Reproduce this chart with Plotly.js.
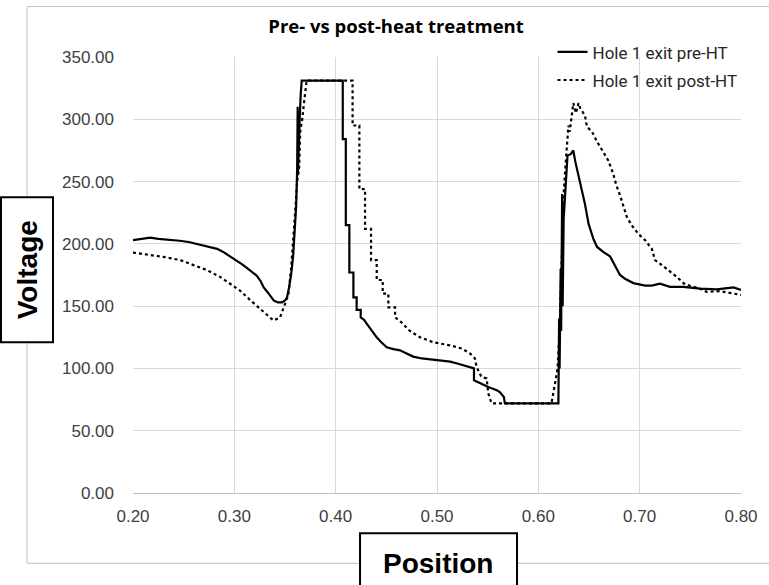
<!DOCTYPE html>
<html>
<head>
<meta charset="utf-8">
<script src="https://cdn.plot.ly/plotly-3.0.1.min.js"></script>
<style>html,body{margin:0;padding:0;background:#fff;}#chart{width:769px;height:585px;}</style>
</head>
<body>
<div id="chart"></div>
<script>
const chartTitle = "Pre- vs post-heat treatment";
const seriesNames = ["Hole 1 exit pre-HT", "Hole 1 exit post-HT"];
const xTitle = "Position";
const yTitle = "Voltage";

const preX = [0.200,0.210,0.217,0.225,0.235,0.246,0.255,0.263,0.270,0.276,0.283,0.289,0.295,0.301,0.307,0.312,0.317,0.322,0.326,0.329,0.333,0.336,0.339,0.343,0.347,0.350,0.352,0.354,0.356,0.358,0.360,0.361,0.362,0.3625,0.3628,0.3635,0.3645,0.3655,0.3665,0.370,0.385,0.400,0.407,0.407,0.410,0.410,0.4135,0.4135,0.4175,0.4175,0.4207,0.4207,0.4247,0.4247,0.428,0.4306,0.435,0.4405,0.445,0.4504,0.457,0.4635,0.470,0.4766,0.485,0.4964,0.505,0.513,0.520,0.526,0.534,0.5365,0.5365,0.5424,0.5506,0.559,0.562,0.566,0.567,0.580,0.600,0.6198,0.6205,0.621,0.622,0.6225,0.6235,0.624,0.625,0.627,0.6288,0.632,0.6345,0.6365,0.6397,0.643,0.646,0.6496,0.6543,0.658,0.664,0.6707,0.6757,0.6806,0.6855,0.6938,0.7053,0.712,0.720,0.730,0.743,0.7596,0.776,0.7927,0.800];
const preY = [203,204,205,204,203.5,202.5,201.5,200,199,197.5,196,193.5,190.5,187,184,181,178,174.5,170,165,161,157.5,154.5,153,153,154.5,157,165,175,190,212,230,260,310,255,280,300,320,331,331,331,331,331,284,284,215,215,177,177,157,157,147,147,141,139,136,131,125,121,117,115.5,114.5,112,109.5,108,107,106.5,105.5,104,102.5,100,100,90.5,88,85,82.5,81,77,72,72,72,72,140,100,180,130,240,150,220,250,271,272,275,266,255,243,232,216,204,197.5,193.5,190,183,175,172,168.5,166.5,166.5,168,165.5,165.5,164,163.5,165,163];

const postX = [0.200,0.2135,0.230,0.2466,0.2595,0.2727,0.2859,0.2957,0.3056,0.3155,0.3253,0.332,0.3386,0.3451,0.3483,0.3533,0.356,0.358,0.360,0.362,0.364,0.365,0.367,0.369,0.3714,0.390,0.4115,0.4167,0.4167,0.4234,0.4234,0.429,0.429,0.4349,0.4349,0.4405,0.4405,0.4464,0.4464,0.452,0.452,0.4586,0.4586,0.4635,0.4734,0.4832,0.4964,0.513,0.5244,0.5326,0.5375,0.5391,0.544,0.549,0.5506,0.5538,0.570,0.590,0.613,0.6165,0.619,0.621,0.623,0.625,0.627,0.6297,0.631,0.633,0.6345,0.637,0.6397,0.6413,0.646,0.648,0.653,0.658,0.664,0.669,0.674,0.677,0.6806,0.6872,0.692,0.6987,0.7053,0.712,0.7151,0.7235,0.7365,0.7447,0.7596,0.7662,0.7793,0.7892,0.800];
const postY = [193,191.5,189.5,187,183,179,173.5,168,162.5,155,148,144,138.5,141,148,159,180,200,225,250,262,290,300,315,331,331,331,331,295,295,244,244,212,212,187,187,171,171,160,160,149,149,141,138,130,125,121,118.5,116,112,108,101,93,92,80,72,72,72,72,88,100,130,180,240,265,295,290,305,313,305,313,309,303,294,290,282,274,267,256,247,239,222,215,208,203,196,187,182,173.5,167.5,164,161.5,162,160.5,159];

const xTicks = [0.2,0.3,0.4,0.5,0.6,0.7,0.8];
const yTicks = [0,50,100,150,200,250,300,350];

const traces = [
  {x: preX, y: preY, name: seriesNames[0], type: 'scatter', mode: 'lines', legendgroup: 'pre',
   line: {color: '#000000', width: 2.2, dash: 'solid'}},
  {x: postX, y: postY, name: seriesNames[1], type: 'scatter', mode: 'lines', legendgroup: 'post',
   line: {color: '#000000', width: 2.2, dash: 'dot'}}
];

const tickFont = {family: 'Liberation Sans, Arial, sans-serif', size: 17, color: '#404040'};

const layout = {
  width: 769, height: 585, autosize: false,
  paper_bgcolor: '#ffffff', plot_bgcolor: '#ffffff',
  margin: {l: 133, r: 28, t: 57, b: 92, pad: 0},
  showlegend: true,
  title: {text: '<b>' + chartTitle + '</b>', x: 0.515, xref: 'container', xanchor: 'center',
          y: 0.954, yref: 'container', yanchor: 'middle',
          font: {family: 'Open Sans, sans-serif', size: 18.5, color: '#000000'}},
  xaxis: {range: [0.2, 0.8], tickvals: xTicks, ticktext: xTicks.map(v => v.toFixed(2)),
          showgrid: true, gridcolor: '#d9d9d9', gridwidth: 1,
          showline: true, linecolor: '#bfbfbf', linewidth: 1, zeroline: false,
          ticks: '', tickfont: tickFont, ticklabelstandoff: 8},
  yaxis: {range: [0, 350], tickvals: yTicks, ticktext: yTicks.map(v => v.toFixed(2)),
          showgrid: true, gridcolor: '#d9d9d9', gridwidth: 1,
          showline: false, zeroline: false,
          ticks: '', tickfont: tickFont, ticklabelstandoff: 18},
  legend: {x: 0.69, y: 1.052, xanchor: 'left', yanchor: 'top', bgcolor: 'rgba(0,0,0,0)',
           font: {family: 'Roboto, sans-serif', size: 17, color: '#262626'},
           itemwidth: 30, tracegroupgap: 3},
  shapes: [
    {type: 'rect', xref: 'paper', yref: 'paper', x0: -0.1743, x1: 1.06, y0: -0.1612, y1: 1.1156,
     line: {color: '#bfbfbf', width: 1}, fillcolor: 'rgba(0,0,0,0)', layer: 'below'},
    {type: 'rect', xref: 'paper', yref: 'paper', x0: -0.2171, x1: -0.1316, y0: 0.3456, y1: 0.6782,
     line: {color: '#000000', width: 2}, fillcolor: '#ffffff', layer: 'above'},
    {type: 'rect', xref: 'paper', yref: 'paper', x0: 0.3734, x1: 0.6316, y0: -0.25, y1: -0.0924,
     line: {color: '#000000', width: 2}, fillcolor: '#ffffff', layer: 'above'}
  ],
  annotations: [
    {text: '<b>' + yTitle + '</b>', xref: 'paper', yref: 'paper', x: -0.1743, y: 0.511,
     textangle: -90, showarrow: false, xanchor: 'center', yanchor: 'middle',
     font: {family: 'Liberation Sans, Arial, sans-serif', size: 28, color: '#000000'}},
    {text: '<b>' + xTitle + '</b>', xref: 'paper', yref: 'paper', x: 0.5016, y: -0.1612,
     showarrow: false, xanchor: 'center', yanchor: 'middle',
     font: {family: 'Liberation Sans, Arial, sans-serif', size: 28, color: '#000000'}}
  ]
};

Plotly.newPlot('chart', traces, layout, {displayModeBar: false, staticPlot: true});
</script>
</body>
</html>
